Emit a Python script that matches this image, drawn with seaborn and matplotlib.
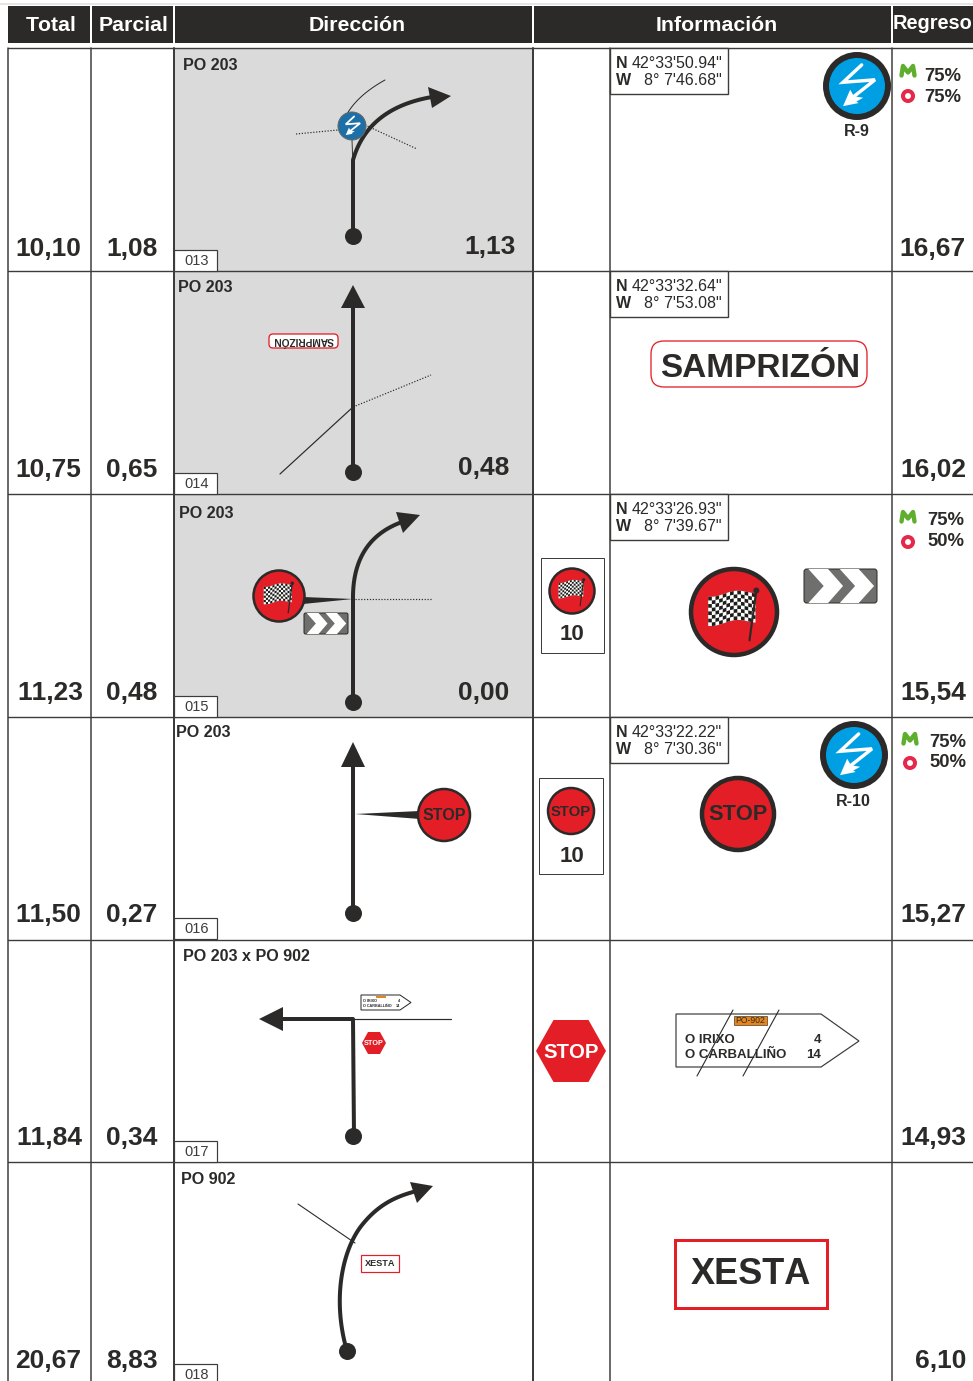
import numpy as np
import matplotlib
matplotlib.use("Agg")
import matplotlib.pyplot as plt
from matplotlib.patches import Rectangle, Polygon, Circle, FancyBboxPatch
import seaborn as sns

sns.set_theme(style="white")
plt.rcParams['font.family'] = ['Liberation Sans', 'DejaVu Sans']
plt.rcParams['text.kerning_factor'] = 6

# ---------- data ----------
headers = ["Total", "Parcial", "Dirección", "Información", "Regreso"]
totals = ["10,10", "10,75", "11,23", "11,50", "11,84", "20,67"]
parciales = ["1,08", "0,65", "0,48", "0,27", "0,34", "8,83"]
regresos = ["16,67", "16,02", "15,54", "15,27", "14,93", "6,10"]
roads = ["PO 203", "PO 203", "PO 203", "PO 203", "PO 203 x PO 902", "PO 902"]
road_x = [183, 178, 179, 176, 183, 181]
road_y = [65, 287, 513, 732, 956, 1179]
cell_ids = ["013", "014", "015", "016", "017", "018"]
cell_tops = [250, 473, 696, 918, 1141, 1364]
dist_labels = ["1,13", "0,48", "0,00"]
dist_pos = [(490, 247), (484, 468), (484, 693)]
coords_n = ["42°33'50.94\"", "42°33'32.64\"", "42°33'26.93\"", "42°33'22.22\""]
coords_w = ["8° 7'46.68\"", "8° 7'53.08\"", "8° 7'39.67\"", "8° 7'30.36\""]
coverage_m = {0: "75%", 2: "75%", 3: "75%"}
coverage_v = {0: "75%", 2: "50%", 3: "50%"}
row_lines = [48, 271, 494, 717, 940, 1162]
col_lines = [8, 91, 174, 533, 610, 892]
start_x = [353, 353, 353, 353, 353, 347]
start_y = [236, 472, 702, 913, 1136, 1351]

DARK = "#2b2a29"
LINE = "#3c3c3b"
GREY = "#d9dad9"
RED = "#e31e26"
BLUE = "#009fe3"

W, H = 973, 1381
fig = plt.figure(figsize=(W / 100, H / 100), dpi=100)
ax = fig.add_axes([0, 0, 1, 1])
ax.set_xlim(0, W)
ax.set_ylim(H, 0)
ax.set_autoscale_on(False)
ax.axis("off")


def px(v):
    return v * 0.72


def bez(*pts, n=60):
    p = np.array(pts, float)
    t = np.linspace(0, 1, n)[:, None]
    if len(p) == 3:
        return (1-t)**2*p[0] + 2*(1-t)*t*p[1] + t**2*p[2]
    return (1-t)**3*p[0] + 3*(1-t)**2*t*p[1] + 3*(1-t)*t**2*p[2] + t**3*p[3]


def route(xy, lw=4.0, color=DARK, z=4, **kw):
    xy = np.asarray(xy, float)
    sns.lineplot(x=xy[:, 0], y=xy[:, 1], sort=False, estimator=None, errorbar=None,
                 color=color, linewidth=px(lw), ax=ax, legend=False, zorder=z, **kw)


def thin(a, b, lw=1.0, dotted=False, color=DARK, z=3):
    ax.plot([a[0], b[0]], [a[1], b[1]], color=color, lw=px(lw), zorder=z,
            ls=(0, (1, 1.4)) if dotted else "-")


def poly(pts, fc=DARK, ec="none", lw=0, z=5):
    ax.add_patch(Polygon(pts, closed=True, fc=fc, ec=ec, lw=px(lw), zorder=z))


def txt(x, y, s, size, bold=True, ha="center", color=DARK, z=8, **kw):
    ax.text(x, y, s, fontsize=size, fontweight="bold" if bold else "normal", ha=ha,
            va="center", color=color, zorder=z, **kw)


def lightning(cx, cy, r, blue=BLUE, ring=DARK, ring_w=5.0):
    ax.add_patch(Circle((cx, cy), r, fc=blue, ec=ring, lw=px(ring_w), zorder=6))
    pts = np.array([(.15, -.68), (-.45, -.12), (.58, -.2), (-.28, .48)]) * r + (cx, cy)
    ax.plot(pts[:, 0], pts[:, 1], color="white", lw=px(max(1.8, r * .11)), zorder=7, solid_joinstyle="miter")
    poly(np.array([(-.45, .65), (-.22, .12), (-.1, .33), (.2, .38), (-.02, .5), (.05, .55)]) * r + (cx, cy), fc="white", z=7)


def flag(cx, cy, r, ring_w):
    ax.add_patch(Circle((cx, cy), r, fc=RED, ec=DARK, lw=px(ring_w), zorder=6))
    nx, ny = 13, 8
    x0, x1, y0, y1 = -.6, .5, -.44, .24
    dx, dy = (x1 - x0) / nx, (y1 - y0) / ny
    wave = lambda u: .05 * np.sin((u - x0) / (x1 - x0) * 2 * np.pi + 1.0) - .07 * u
    us = np.linspace(x0, x1, 30)
    outline = np.vstack([np.c_[us, y0 + wave(us)], np.c_[us[::-1], y1 + wave(us[::-1])]])
    poly(outline * r + (cx, cy), fc="white", z=7)
    for i in range(nx):
        for j in range(ny):
            if (i + j) % 2 == 0:
                u = np.linspace(x0 + i * dx, x0 + (i + 1) * dx, 4)
                v0, v1 = y0 + j * dy, y0 + (j + 1) * dy
                cell = np.vstack([np.c_[u, v0 + wave(u)], np.c_[u[::-1], v1 + wave(u[::-1])]])
                poly(cell * r + (cx, cy), fc="#1d1d1b", z=8)
    ax.plot([cx + .52 * r, cx + .36 * r], [cy - .5 * r, cy + .66 * r], color=DARK, lw=px(max(1, r * .05)), zorder=8)
    ax.add_patch(Circle((cx + .52 * r, cy - .5 * r), .07 * r, fc=DARK, ec="none", zorder=8))


def stop_circle(cx, cy, r, size, ring_w):
    ax.add_patch(Circle((cx, cy), r, fc=RED, ec=DARK, lw=px(ring_w), zorder=6))
    txt(cx, cy + .5, "STOP", size, color=DARK)


def chevrons(x0, y0, x1, y1):
    w, h = x1 - x0, y1 - y0
    ax.add_patch(FancyBboxPatch((x0, y0), w, h, boxstyle="round,pad=0,rounding_size=%.1f" % (h * .08),
                                fc="#6f6f6e", ec=DARK, lw=px(1), zorder=5))
    for a, tr, tip, itip in [(.06, .33, .535, .27), (.49, .75, .96, .70)]:
        poly([(x0 + a * w, y0), (x0 + tr * w, y0), (x0 + tip * w, y0 + h / 2),
              (x0 + tr * w, y1), (x0 + a * w, y1), (x0 + itip * w, y0 + h / 2)], fc="white", z=6)


def hexagon(cx, cy, rx, ry, cut=.5):
    return [(cx - rx, cy), (cx - rx * cut, cy - ry), (cx + rx * cut, cy - ry),
            (cx + rx, cy), (cx + rx * cut, cy + ry), (cx - rx * cut, cy + ry)]


def movistar(cx, cy):
    pts = np.array([(-6.5, 4.5), (-5, -5), (0, 1.5), (5, -5), (6.5, 4.5)]) + (cx, cy)
    ax.plot(pts[:, 0], pts[:, 1], color="#5fae2e", lw=px(4.4), zorder=6, solid_joinstyle="round")


def vodafone(cx, cy):
    ax.add_patch(Circle((cx, cy), 5, fc="white", ec="#e6294a", lw=px(4), zorder=6))


# ---------- frame ----------
ax.plot([0, W], [4, 4], color="#dddddd", lw=px(1.5), zorder=1)
for a, b in [(8, 90), (92, 173), (175, 532), (534, 891), (893, 973)]:
    ax.add_patch(Rectangle((a, 6), b - a, 37, fc=DARK, ec="none", zorder=2))
for x, s in zip([51, 134, 357, 717], headers[:4]):
    txt(x, 25.5, s, 15.3, color="white")
txt(933, 23, headers[4], 14.4, color="white")

for i in range(3):
    ax.add_patch(Rectangle((174, row_lines[i]), 359, row_lines[i + 1] - row_lines[i], fc=GREY, ec="none", zorder=0.5))
for y in row_lines:
    ax.plot([8, W], [y, y], color=LINE, lw=px(1.4), zorder=2)
for x in col_lines:
    ax.plot([x, x], [48, H], color=LINE, lw=px(2 if x in (174, 533) else 1.5), zorder=2)

# ---------- per-row text ----------
total_x = [48, 48, 50, 48, 49, 48]
reg_x = [932, 933, 933, 933, 933, 941]
val_y = [249, 470, 693, 915, 1138, 1361]
for i in range(6):
    txt(total_x[i], val_y[i], totals[i], 19)
    txt(132, val_y[i], parciales[i], 19)
    txt(reg_x[i], val_y[i], regresos[i], 19)
    txt(road_x[i], road_y[i], roads[i], 11.6, ha="left")
    top = cell_tops[i]
    ax.add_patch(Rectangle((174, top), 43, 21, fc="white", ec=LINE, lw=px(1.2), zorder=3))
    txt(196.5, top + 11, cell_ids[i], 10.5, bold=False, color=LINE)
for s, (x, y) in zip(dist_labels, dist_pos):
    txt(x, y, s, 19)

for i in range(4):
    top = row_lines[i]
    ax.add_patch(Rectangle((610, top), 118, 46, fc="white", ec=LINE, lw=px(1.4), zorder=3))
    txt(616, top + 15, "N", 11.5, ha="left")
    txt(722, top + 15, coords_n[i], 11.5, bold=False, ha="right")
    txt(616, top + 32, "W", 11.5, ha="left")
    txt(722, top + 32, coords_w[i], 11.5, bold=False, ha="right")

for i, (mx, vx, tx, ym, yv, ty1, ty2) in {0: (908, 908, 924, 71, 96, 76, 97),
                                           2: (908, 908, 927, 517, 542, 520, 541),
                                           3: (910, 910, 929, 739, 763, 742, 762)}.items():
    movistar(mx, ym)
    vodafone(vx, yv)
    txt(tx, ty1, coverage_m[i], 13.3, ha="left")
    txt(tx, ty2, coverage_v[i], 13.3, ha="left")

# ---------- start dots through seaborn ----------
sns.scatterplot(x=start_x, y=start_y, s=150, color=DARK, linewidth=0, ax=ax, legend=False, zorder=6)

# ---------- row 1 ----------
route(np.vstack([[(353, 236), (353, 160)], bez((353, 160), (368, 108), (432, 97))]))
poly([(451, 96), (428, 87), (432, 108)])
route(bez((347, 114), (358, 95), (385, 80)), lw=1, z=3)
thin((352, 140), (353, 165), color=LINE)
thin((296, 134), (338, 130), lw=1.2, dotted=True)
thin((365, 125), (417, 149), lw=1.2, dotted=True)
lightning(352, 126, 14, blue="#1d6fa8", ring="#666666", ring_w=1)
lightning(857, 86, 31, ring_w=6)
txt(857, 131, "R-9", 11.5)

# ---------- row 2 ----------
route([(353, 472), (353, 306)])
poly([(353, 285), (341, 308), (365, 308)])
thin((280, 474), (353, 407), lw=1.2)
thin((353, 407), (431, 375), lw=1.2, dotted=True)
ax.add_patch(FancyBboxPatch((269, 334), 69, 14, boxstyle="round,pad=0,rounding_size=4", fc="white", ec=RED, lw=px(1.3), zorder=5))
txt(303.5, 340, "SAMPRIZÓN", 7.4, rotation=180)
ax.add_patch(FancyBboxPatch((651, 341), 216, 46, boxstyle="round,pad=0,rounding_size=13", fc="white", ec=RED, lw=px(1.3), zorder=5))
txt(760, 368, "SAMPRIZÓN", 24)

# ---------- row 3 ----------
route(np.vstack([[(353, 702), (353, 600)], bez((353, 600), (352, 540), (402, 522))]))
poly([(420, 515), (396, 512), (403, 533)])
poly([(303, 597), (353, 599), (303, 604)])
thin((355, 599), (432, 599), lw=1.2, dotted=True)
flag(279, 596, 25.5, 2.5)
chevrons(304, 613, 348, 634)
ax.add_patch(Rectangle((541, 558), 63, 95, fc="white", ec=LINE, lw=px(1), zorder=3))
flag(572, 591, 22.5, 2.5)
txt(572, 634, "10", 16)
flag(734, 612, 43, 4.5)
chevrons(804, 569, 877, 603)

# ---------- row 4 ----------
route([(353, 913), (353, 765)])
poly([(353, 742), (341, 767), (365, 767)])
poly([(420, 811), (355, 814), (420, 819)])
stop_circle(444, 815, 26, 11.5, 2.5)
ax.add_patch(Rectangle((539, 778), 64, 96, fc="white", ec=LINE, lw=px(1), zorder=3))
stop_circle(571, 811, 23, 10.6, 2.5)
txt(572, 856, "10", 16)
stop_circle(738, 814, 36, 15.7, 4.5)
lightning(854, 755, 31, ring_w=6)
txt(853, 801, "R-10", 11.5)

# ---------- row 5 ----------
route([(354, 1136), (353, 1019), (281, 1019)])
poly([(259, 1019), (283, 1007), (283, 1031)])
thin((353, 1019), (451, 1019), lw=1.2)
poly([(361, 995), (400, 995), (411, 1002.5), (400, 1010), (361, 1010)], fc="white", ec=DARK, lw=1, z=4)
ax.add_patch(Rectangle((376, 995.5), 10, 2, fc="#e8851a", ec="none", zorder=5))
txt(363, 1001, "O IRIXO", 2.7, ha="left")
txt(363, 1006, "O CARBALLIÑO", 2.7, ha="left")
txt(399, 1001, "4", 2.7)
txt(398, 1006, "14", 2.7)
poly(hexagon(374, 1043, 12, 11), fc=RED)
txt(374, 1043.5, "STOP", 5.2, color="white")
poly(hexagon(571, 1051, 35, 31), fc=RED)
txt(571, 1052, "STOP", 14.7, color="white")
poly([(676, 1014), (821, 1014), (859, 1041), (821, 1067), (676, 1067)], fc="white", ec=LINE, lw=1.2, z=3)
ax.add_patch(Rectangle((734, 1016), 33, 9, fc="#e8851a", ec=DARK, lw=px(.6), zorder=4))
txt(750.5, 1020.5, "PO-902", 6.2, bold=False)
txt(685, 1040, "O IRIXO", 9.5, ha="left")
txt(685, 1055, "O CARBALLIÑO", 9.5, ha="left")
txt(817, 1040, "4", 9.5)
txt(814, 1055, "14", 9.5)
thin((697, 1076), (733, 1010), lw=1.1, z=9)
thin((743, 1076), (779, 1010), lw=1.1, z=9)

# ---------- row 6 ----------
route(np.vstack([bez((347, 1351), (332, 1300), (342, 1250), (362, 1225)), bez((362, 1225), (378, 1205), (395, 1197), (413, 1192))]))
poly([(433, 1186), (410, 1182), (417, 1203)])
thin((298, 1204), (355, 1243), lw=1.1)
ax.add_patch(Rectangle((361, 1255), 38, 17, fc="white", ec=RED, lw=px(1.2), zorder=5))
txt(380, 1264, "XESTA", 6.6)
ax.add_patch(Rectangle((675, 1240), 152, 68, fc="white", ec=RED, lw=px(3), zorder=5))
txt(751, 1275, "XESTA", 26)

ax.set_xlim(0, W)
ax.set_ylim(H, 0)
fig.savefig("out.png", dpi=100, facecolor="white")
